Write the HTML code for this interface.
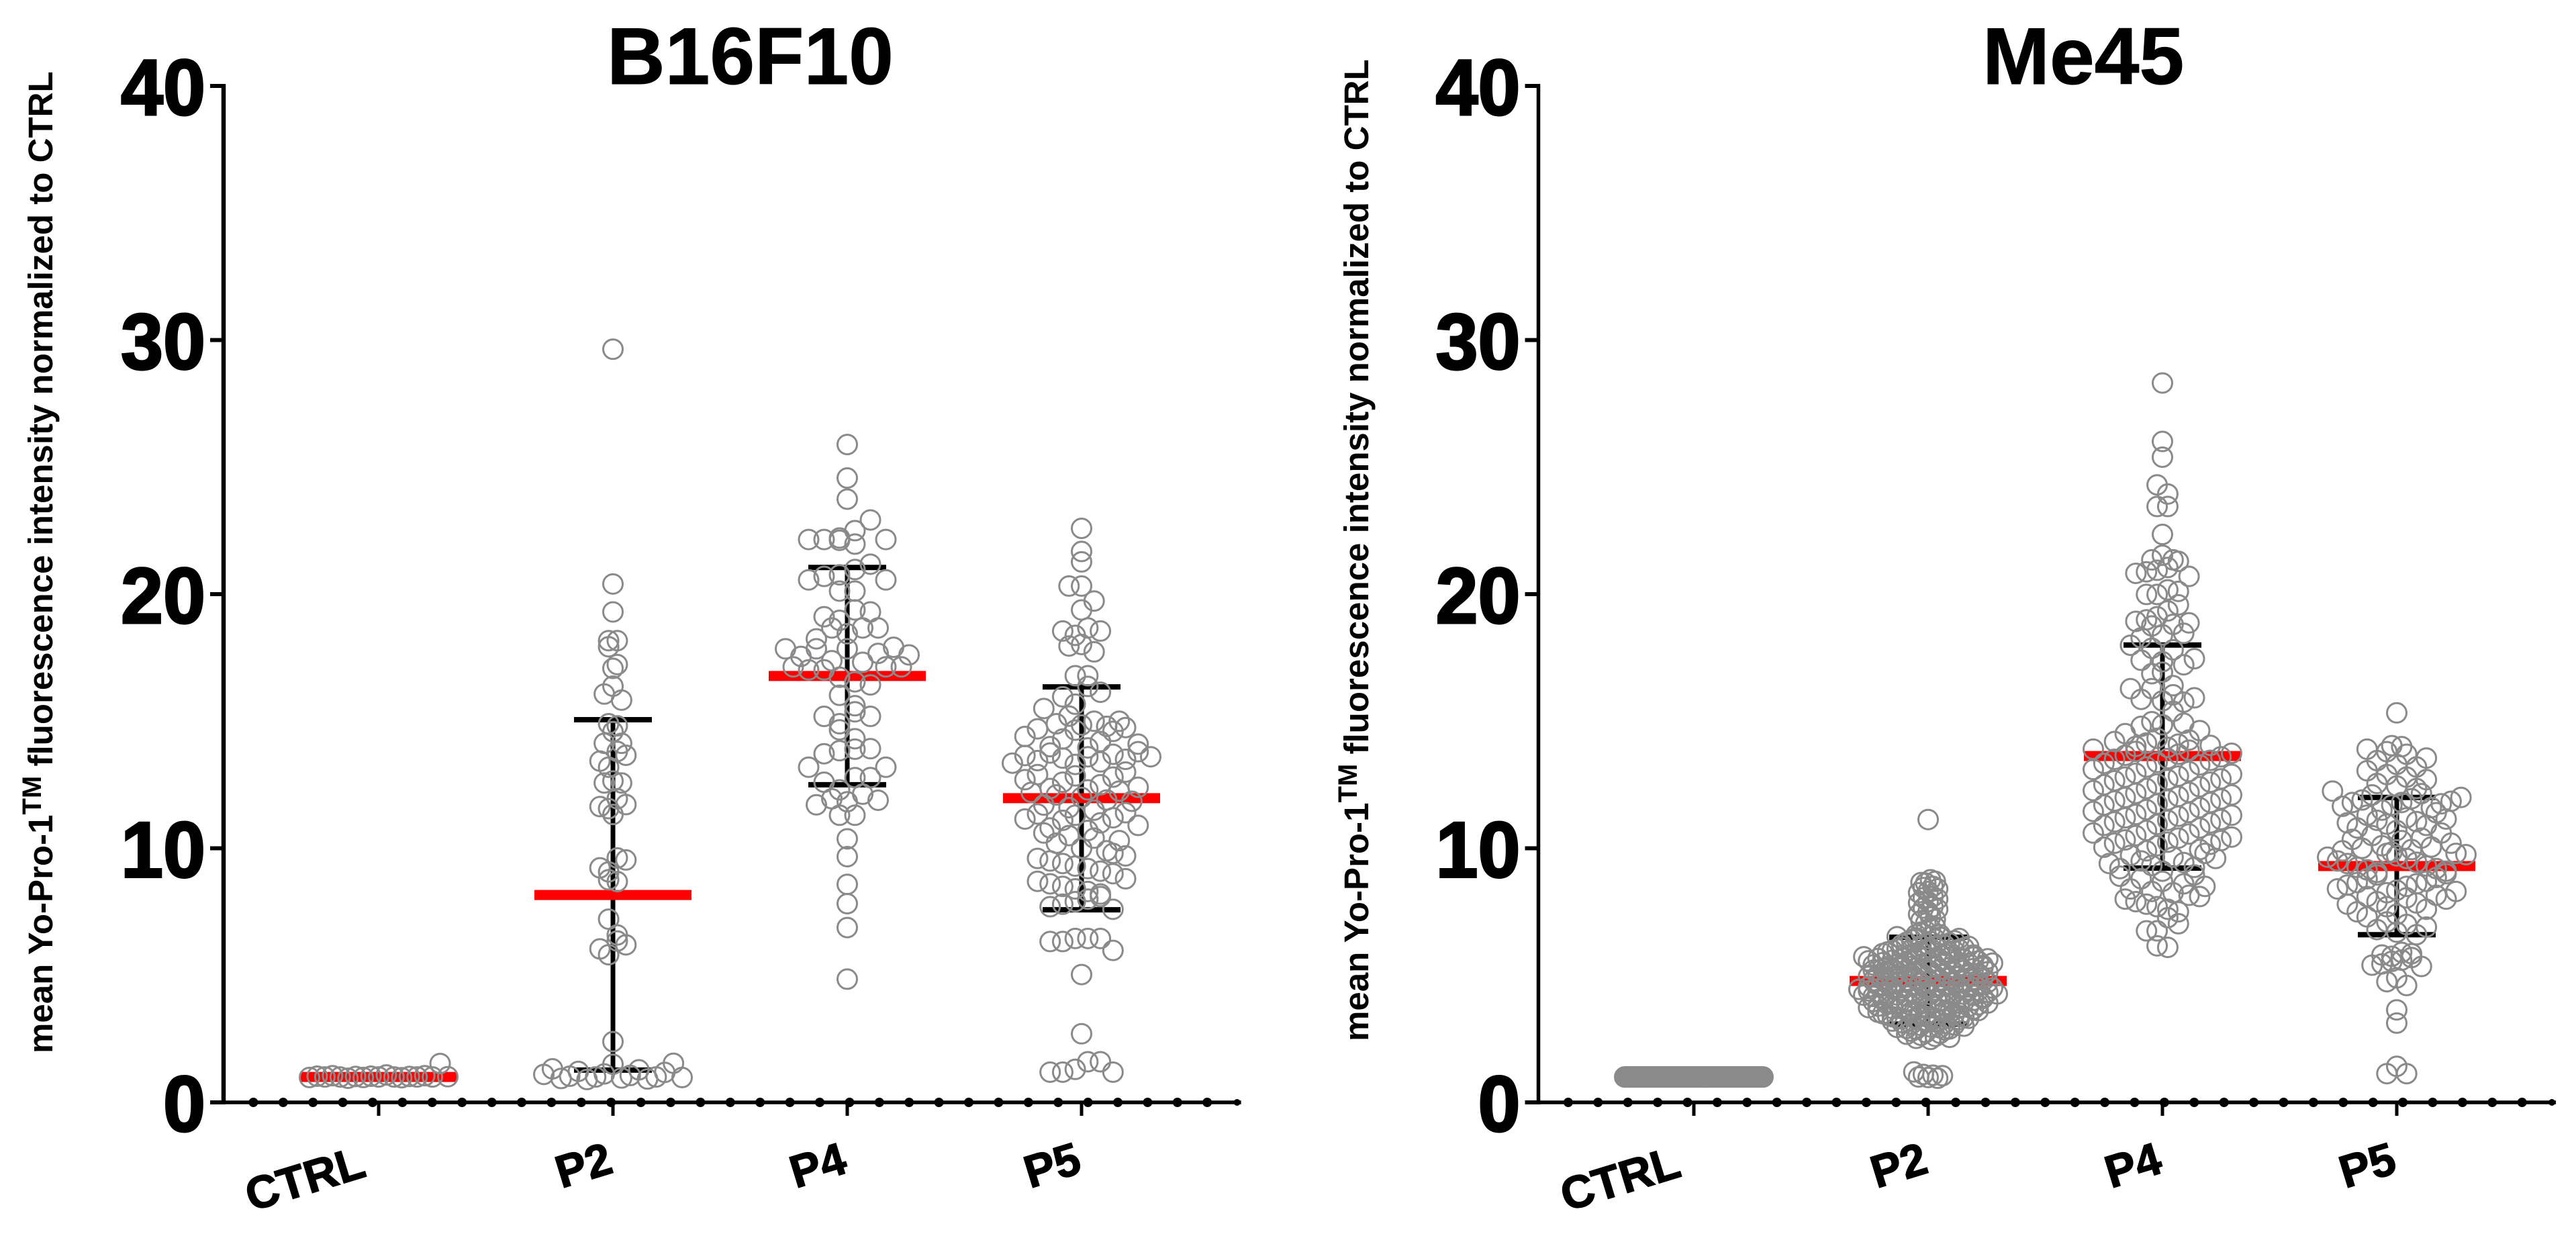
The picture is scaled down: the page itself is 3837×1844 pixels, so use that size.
<!DOCTYPE html>
<html lang="en">
<head>
<meta charset="utf-8">
<title>Yo-Pro-1 fluorescence: B16F10 and Me45</title>
<style>
html,body{margin:0;padding:0;background:#fff;}
svg{display:block;}
text{font-family:"Liberation Sans",Arial,sans-serif;font-weight:bold;fill:#000;}
</style>
</head>
<body>
<svg id="figure" xmlns="http://www.w3.org/2000/svg" width="3837" height="1844" viewBox="0 0 3837 1844">
  <rect x="0" y="0" width="3837" height="1844" fill="#ffffff"/>
  <text x="904" y="125" font-size="120" stroke="#000" stroke-width="1">B16F10</text>
  <text x="2953" y="125" font-size="120" stroke="#000" stroke-width="1">Me45</text>
  <text class="ytitle" data-x="78" data-y="1569" font-size="51">mean Yo-Pro-1<tspan font-size="40" dy="-17">TM</tspan><tspan dy="17"> fluorescence intensity normalized to CTRL</tspan></text>
  <text class="ytitle" data-x="2038" data-y="1551" font-size="51">mean Yo-Pro-1<tspan font-size="40" dy="-17">TM</tspan><tspan dy="17"> fluorescence intensity normalized to CTRL</tspan></text>
  <g id="plot-b16f10"></g>
  <g id="plot-me45"></g>
</svg>
<script>
const yTicks = [0, 10, 20, 30, 40];
const categories = ['CTRL', 'P2', 'P4', 'P5'];

const b16Means = [1.0, 8.16, 16.78, 11.97];
const b16Upper = [1.0, 15.06, 21.05, 16.35];
const b16Lower = [1.0, 1.27, 12.5, 7.58];

const me45Means = [1.0, 4.78, 13.63, 9.3];
const me45Upper = [1.0, 6.5, 18.0, 12.0];
const me45Lower = [1.0, 3.08, 9.22, 6.6];

const b16Ctrl = [0.95,0.97,0.98,0.98,1.0,1.0,1.0,1.0,1.0,1.0,1.01,1.02,1.02,1.03,1.03,1.05,1.05,1.08,1.53];

const b16P2 = [29.64,20.4,19.3,18.17,18.17,17.93,17.23,17.08,16.38,16.07,15.83,14.9,14.82,14.59,14.13,14.13,13.81,13.66,13.43,13.19,12.65,12.57,12.57,11.95,11.72,11.64,11.56,11.33,9.62,9.54,9.23,9.07,8.76,8.69,7.21,6.59,6.35,6.2,6.04,5.81,2.39,1.54,1.5,1.32,1.28,1.22,1.18,1.12,1.1,1.06,1.03,1.0,1.0,0.98,0.96,0.94,0.92,0.9];

const b16P4 = [25.89,24.57,23.74,22.92,22.5,22.21,22.15,22.15,22.15,22.12,21.97,21.18,20.97,20.76,20.7,20.56,20.56,20.12,20.12,19.38,19.3,19.11,18.97,18.67,18.67,18.67,18.44,18.24,17.91,17.85,17.85,17.85,17.67,17.61,17.55,17.38,17.32,17.14,17.14,17.14,17.02,17.02,16.73,16.55,16.43,16.02,15.61,15.37,15.19,15.19,14.9,14.66,14.31,13.92,13.9,13.84,13.72,13.19,13.19,12.78,12.78,12.6,12.3,12.13,11.95,11.89,11.83,11.71,11.3,11.3,10.37,9.67,8.58,7.82,6.88,4.85];

const b16P5 = [22.59,21.68,21.27,20.32,20.32,19.73,19.38,18.67,18.55,18.55,18.38,18.02,17.96,17.73,16.79,16.79,16.37,16.14,15.96,15.67,15.5,15.2,15.0,15.0,14.9,14.85,14.8,14.75,14.7,14.65,14.6,14.4,14.3,14.2,14.1,14.0,13.95,13.8,13.75,13.7,13.65,13.6,13.6,13.55,13.5,13.45,13.4,13.35,13.3,13.0,12.9,12.85,12.8,12.7,12.6,12.5,12.4,12.35,12.3,12.25,12.2,12.1,12.0,11.9,11.85,11.7,11.6,11.5,11.4,11.35,11.3,11.2,11.15,11.1,11.0,10.9,10.8,10.7,10.6,10.5,10.4,10.3,10.2,10.0,9.9,9.8,9.7,9.6,9.5,9.4,9.3,9.2,9.1,9.0,8.8,8.7,8.6,8.5,8.4,8.3,8.2,8.1,8.0,7.9,7.8,7.7,7.6,6.45,6.45,6.33,6.33,6.45,5.98,5.03,2.7,1.6,1.6,1.3,1.19,1.19,1.19];

const me45Ctrl = [1,1,1,1,1,1,1,1,1,1,1,1,1,1,1,1,1,1,1,1,1,1,1,1,1,1,1,1,1,1,1,1,1,1,1,1,1,1,1,1,1,1,1,1,1,1,1,1,1,1,1,1,1,1,1,1,1,1,1,1,1,1,1,1,1,1,1,1,1,1,1,1,1,1,1,1,1,1,1,1,1,1,1,1,1,1,1,1,1,1,1,1,1,1,1,1,1,1,1,1,1,1,1,1,1,1,1,1,1,1,1,1,1,1,1,1,1,1,1,1,1,1,1,1,1,1,1,1,1,1,1,1,1,1,1,1,1,1,1,1];

const me45P2 = [11.13,8.76,8.7,8.65,8.63,8.5,8.45,8.4,8.3,8.25,8.1,8.05,8.0,7.9,7.85,7.7,7.65,7.6,7.5,7.4,7.3,7.2,7.15,7.05,6.9,6.85,6.75,6.7,6.6,6.6,
6.52,6.5,6.47,6.45,6.42,6.4,6.36,6.33,6.3,6.27,6.24,6.21,6.18,6.16,
6.14,6.12,6.1,6.08,6.06,6.04,6.02,6.0,5.98,5.96,5.94,5.92,5.9,5.88,5.86,5.84,5.82,5.8,5.78,5.76,
5.73,5.72,5.71,5.69,5.68,5.66,5.65,5.63,5.62,5.6,5.59,5.57,5.56,5.54,5.53,5.51,5.5,5.48,5.47,5.45,5.44,5.42,5.41,5.39,5.38,5.36,5.35,5.34,
5.32,5.3,5.29,5.27,5.26,5.24,5.22,5.2,5.19,5.17,5.15,5.14,5.12,5.1,5.09,5.07,5.06,5.04,5.02,5.01,4.99,4.98,4.96,4.95,4.94,4.93,
4.9,4.89,4.87,4.86,4.84,4.82,4.81,4.79,4.77,4.76,4.74,4.72,4.71,4.69,4.68,4.66,4.64,4.63,4.61,4.6,4.58,4.57,4.55,4.54,4.53,4.52,
4.5,4.49,4.47,4.46,4.45,4.43,4.42,4.41,4.39,4.38,4.37,4.35,4.34,4.33,4.31,4.3,4.29,4.27,4.26,4.25,4.23,4.22,4.21,4.19,4.18,4.17,4.15,4.14,4.12,4.11,
4.09,4.07,4.06,4.04,4.02,4.01,3.99,3.97,3.96,3.94,3.92,3.91,3.89,3.88,3.86,3.84,3.83,3.81,3.79,3.78,3.76,3.75,3.73,3.72,3.71,3.7,
3.67,3.65,3.63,3.61,3.59,3.57,3.55,3.53,3.51,3.49,3.47,3.45,3.43,3.41,3.39,3.37,3.35,3.33,3.32,3.31,3.3,3.29,
3.26,3.23,3.2,3.17,3.14,3.11,3.08,3.05,3.03,3.0,2.97,2.95,2.93,2.91,2.89,2.88,
2.85,2.8,2.75,2.72,2.68,2.64,2.6,2.56,2.52,2.48,
1.2,1.1,1.07,1.05,1.0,0.98,0.95];

const me45P4 = [28.31,26.01,25.39,24.3,23.94,23.45,23.45,22.35,21.53,21.35,21.35,21.29,21.05,20.94,20.88,20.82,20.7,20.17,20.11,19.99,19.99,19.58,19.34,19.11,18.99,18.93,18.87,18.81,18.75,18.46,18.4,18.28,17.99,17.87,17.81,17.46,17.4,17.34,17.22,16.93,16.87,16.4,16.28,16.28,16.04,15.92,15.86,15.8,15.75,15.39,14.98,14.92,14.86,14.8,14.63,14.51,
14.33,14.26,14.2,14.14,14.1,14.05,14.01,13.97,
13.9,13.86,13.81,13.74,13.7,13.66,13.6,13.53,13.5,13.46,13.38,13.34,13.28,13.2,
13.1,13.02,12.95,12.91,12.84,12.8,12.73,12.7,12.66,12.6,12.53,12.5,12.42,12.35,
12.27,12.2,12.16,12.1,12.04,12.0,11.94,11.9,11.86,11.8,11.74,11.7,11.6,11.52,
11.45,11.41,11.33,11.3,11.26,11.2,11.13,11.1,11.04,11.0,10.94,10.9,10.8,10.7,
10.6,10.56,10.5,10.44,10.4,10.33,10.3,10.24,10.2,10.16,10.1,10.04,9.95,9.9,
9.8,9.72,9.65,9.6,9.5,9.44,9.4,9.32,9.25,9.2,9.1,
8.95,8.9,8.8,8.7,8.6,8.5,8.4,8.3,8.25,
8.15,8.1,8.0,7.9,7.8,7.7,7.6,7.5,
7.27,7.03,6.75,6.75,6.16,6.1];

const me45P5 = [15.33,14.04,14.0,13.9,13.8,13.7,13.55,13.45,13.3,13.2,13.05,12.9,12.8,12.7,12.55,12.45,12.35,12.25,12.15,12.1,12.0,11.95,11.9,11.85,11.8,11.8,11.75,11.7,11.65,11.6,11.5,11.4,11.3,11.2,11.15,11.1,11.05,11.0,10.95,10.9,10.8,10.7,10.6,10.5,10.4,10.35,10.3,10.2,10.1,10.05,10.0,9.95,9.9,9.85,9.8,9.8,9.75,9.7,9.65,9.6,9.5,9.45,9.4,9.3,9.25,9.2,9.15,9.1,9.05,9.0,8.95,8.85,8.8,8.7,8.65,8.6,8.55,8.5,8.4,8.35,8.3,8.25,8.15,8.1,8.05,8.0,7.9,7.85,7.8,7.7,7.6,7.5,7.4,7.3,7.1,7.0,6.9,6.8,6.7,6.6,5.9,5.85,5.8,5.75,5.7,5.6,5.55,5.45,5.4,5.35,4.9,4.75,4.6,3.64,3.12,1.42,1.13,1.13];

const b16Series = [b16Ctrl, b16P2, b16P4, b16P5];
const me45Series = [me45Ctrl, me45P2, me45P4, me45P5];

const NS = 'http://www.w3.org/2000/svg';
const BASE_Y = 1642;
const UNIT_Y = 37.85;
function yScale(v) { return BASE_Y - v * UNIT_Y; }

function make(parent, tag, attrs) {
  const el = document.createElementNS(NS, tag);
  for (const k in attrs) el.setAttribute(k, attrs[k]);
  parent.appendChild(el);
  return el;
}

function gcd(a, b) { return b ? gcd(b, a % b) : a; }

function swarm(values, binSize) {
  const bins = new Map();
  values.forEach(function (v) {
    const key = Math.floor(v / binSize);
    if (!bins.has(key)) bins.set(key, []);
    bins.get(key).push(v);
  });
  let maxBin = 1;
  bins.forEach(function (b) { maxBin = Math.max(maxBin, b.length); });
  const slot = maxBin > 1 ? Math.min(23, 206 / (maxBin - 1)) : 23;
  const out = [];
  bins.forEach(function (b) {
    b.sort(function (p, q) { return p - q; });
    const n = b.length;
    const stride = [7, 5, 3, 11, 13].find(function (s) { return gcd(s, n) === 1; });
    b.forEach(function (v, i) {
      const pos = (stride * i + 5) % n;
      out.push({ v: v, off: (pos - (n - 1) / 2) * slot });
    });
  });
  return out;
}

function drawPanel(g, opts) {
  const axisX = opts.axisX;
  const minorStep = 44.4;
  const endX = axisX + 34 * minorStep;
  function xCat(i) { return opts.firstCat + i * 349; }

  const yAxis = make(g, 'line', { x1: axisX, x2: axisX, y1: yScale(40) - 3, y2: yScale(0) + 3, stroke: '#000', 'stroke-width': opts.axisW });
  
  

  yTicks.forEach(function (t) {
    const tick = make(g, 'line', { x1: axisX - 20, x2: axisX, y1: yScale(t), y2: yScale(t), stroke: '#000', 'stroke-width': 6 });
    
    
    const lab = make(g, 'text', { transform: 'translate(' + (axisX - 30 + 3) + ',' + (yScale(t) + 43) + ') scale(.96,1)', 'text-anchor': 'end', 'font-size': 118, stroke: '#000', 'stroke-width': 3 });
    lab.textContent = String(t);
    
    
  });

  const xAxis = make(g, 'line', { x1: axisX, x2: endX + 6, y1: BASE_Y, y2: BASE_Y, stroke: '#000', 'stroke-width': 5.5 });
  
  

  for (let k = 1; k <= 34; k++) {
    const dot = make(g, 'circle', { cx: axisX + k * minorStep, cy: BASE_Y, r: k === 34 ? 5 : 7, fill: '#000' });
    
    
  }

  categories.forEach(function (c, i) {
    const cx = xCat(i);
    const tick = make(g, 'line', { x1: cx, x2: cx, y1: BASE_Y, y2: BASE_Y + 20, stroke: '#000', 'stroke-width': 5 });
    
    
    const lx = cx + (c.length > 2 ? -103 : -37);
    const ly = BASE_Y + (c.length > 2 ? 112 : 92) + 24;
    const lab = make(g, 'text', { transform: 'translate(' + lx + ',' + ly + ') rotate(-17)', 'text-anchor': 'middle', 'font-size': 68, stroke: '#000', 'stroke-width': 1.5 });
    lab.textContent = c;
    
    

    const stem = make(g, 'line', { x1: cx, x2: cx, y1: yScale(opts.upper[i]), y2: yScale(opts.lower[i]), stroke: '#000', 'stroke-width': 7 });
    
    
    [opts.upper[i], opts.lower[i]].forEach(function (val) {
      const cap = make(g, 'line', { x1: cx - 58, x2: cx + 58, y1: yScale(val), y2: yScale(val), stroke: '#000', 'stroke-width': 8 });
      
      
    });
    const mean = make(g, 'line', { x1: cx - 117, x2: cx + 117, y1: yScale(opts.means[i]), y2: yScale(opts.means[i]), stroke: '#ff0000', 'stroke-width': 15 });
    
    

    const bin = opts.bins[i];
    swarm(opts.series[i], bin).forEach(function (p) {
      const pt = make(g, 'circle', { cx: cx + p.off, cy: yScale(p.v), r: 14.5, fill: 'none', stroke: '#8a8a8a', 'stroke-width': 3 });
      
      
    });
  });
}

drawPanel(document.getElementById('plot-b16f10'), {
  axisX: 333, axisW: 6.5, firstCat: 564,
  series: b16Series, means: b16Means, upper: b16Upper, lower: b16Lower,
  bins: [0.82, 0.82, 0.82, 0.82]
});
drawPanel(document.getElementById('plot-me45'), {
  axisX: 2291.5, axisW: 5.5, firstCat: 2523,
  series: me45Series, means: me45Means, upper: me45Upper, lower: me45Lower,
  bins: [0.82, 0.41, 0.82, 0.82]
});

document.querySelectorAll('.ytitle').forEach(function (t) {
  const len = t.getComputedTextLength();
  const k = 1463 / len;
  t.setAttribute('transform', 'translate(' + t.getAttribute('data-x') + ',' + t.getAttribute('data-y') + ') rotate(-90) scale(' + k + ',1)');
});
</script>
</body>
</html>
